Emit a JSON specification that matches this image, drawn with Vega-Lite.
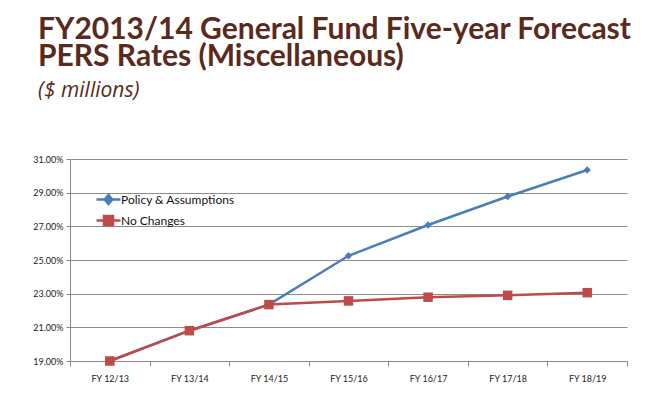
{
  "$schema": "https://vega.github.io/schema/vega-lite/v6.json",
  "width": 557,
  "height": 202,
  "autosize": {"type": "none"},
  "padding": {"left": 70, "top": 159, "right": 25, "bottom": 51},
  "background": "white",
  "title": {
    "text": ["FY2013/14 General Fund Five-year Forecast", "PERS Rates (Miscellaneous)"],
    "subtitle": " ($ millions)",
    "anchor": "start",
    "frame": "group",
    "dx": -32,
    "offset": 54,
    "font": "Lato",
    "fontSize": 30,
    "fontWeight": "bold",
    "lineHeight": 27,
    "color": "#5a2a1c",
    "subtitleFont": "Open Sans",
    "subtitleFontSize": 21,
    "subtitleFontStyle": "italic",
    "subtitleFontWeight": "normal",
    "subtitleColor": "#5a2a1c",
    "subtitlePadding": 8
  },
  "data": {
    "values": [
      {"fy": "FY 12/13", "series": "Policy & Assumptions", "rate": 0.1900},
      {"fy": "FY 13/14", "series": "Policy & Assumptions", "rate": 0.2080},
      {"fy": "FY 14/15", "series": "Policy & Assumptions", "rate": 0.2235},
      {"fy": "FY 15/16", "series": "Policy & Assumptions", "rate": 0.2525},
      {"fy": "FY 16/17", "series": "Policy & Assumptions", "rate": 0.2708},
      {"fy": "FY 17/18", "series": "Policy & Assumptions", "rate": 0.2877},
      {"fy": "FY 18/19", "series": "Policy & Assumptions", "rate": 0.3035},
      {"fy": "FY 12/13", "series": "No Changes", "rate": 0.1900},
      {"fy": "FY 13/14", "series": "No Changes", "rate": 0.2080},
      {"fy": "FY 14/15", "series": "No Changes", "rate": 0.2235},
      {"fy": "FY 15/16", "series": "No Changes", "rate": 0.2257},
      {"fy": "FY 16/17", "series": "No Changes", "rate": 0.2279},
      {"fy": "FY 17/18", "series": "No Changes", "rate": 0.2290},
      {"fy": "FY 18/19", "series": "No Changes", "rate": 0.2306}
    ]
  },
  "encoding": {
    "x": {
      "field": "fy", "type": "nominal", "sort": null,
      "scale": {"paddingInner": 0, "paddingOuter": 0},
      "axis": {
        "title": null, "labelAngle": 0, "tickBand": "extent", "grid": false,
        "labelFont": "Lato", "labelFontSize": 9, "labelColor": "#222",
        "domainColor": "#888", "tickColor": "#888", "tickSize": 5, "labelPadding": 8
      }
    },
    "y": {
      "field": "rate", "type": "quantitative",
      "scale": {"domain": [0.19, 0.31], "nice": false, "zero": false},
      "axis": {
        "title": null, "format": ".2%", "values": [0.19, 0.21, 0.23, 0.25, 0.27, 0.29, 0.31],
        "labelFont": "Lato", "labelFontSize": 9, "labelColor": "#222",
        "gridColor": "#8c8c8c", "gridWidth": 1, "domainColor": "#888",
        "tickColor": "#888", "tickSize": 4, "labelPadding": 3
      }
    },
    "color": {
      "field": "series", "type": "nominal",
      "scale": {"domain": ["Policy & Assumptions", "No Changes"], "range": ["#4a7ebb", "#be4b48"]},
      "legend": {
        "title": null, "orient": "none", "legendX": 27, "legendY": 29,
        "labelFont": "Lato", "labelFontSize": 12, "labelColor": "#111",
        "rowPadding": 0, "symbolSize": 400, "labelOffset": 1,
        "symbolStrokeWidth": 2.5,
        "encode": {
          "symbols": {
            "update": {
              "shape": {"signal": "datum.value === 'No Changes' ? 'M-1.2,0H1.2M-0.45,-0.45H0.45V0.45H-0.45Z' : 'M-1.2,0H1.2M0,-0.45L0.38,0L0,0.45L-0.38,0Z'"},
              "stroke": {"signal": "datum.value === 'No Changes' ? '#be4b48' : '#4a7ebb'"},
              "fill": {"signal": "datum.value === 'No Changes' ? '#be4b48' : '#4a7ebb'"},
              "strokeWidth": {"value": 2.5},
              "opacity": {"value": 1}
            }
          }
        }
      }
    }
  },
  "layer": [
    {"mark": {"type": "line", "strokeWidth": 2.5}},
    {
      "transform": [{"filter": "datum.series === 'Policy & Assumptions'"}],
      "mark": {"type": "point", "filled": true, "opacity": 1, "shape": "diamond", "size": 55}
    },
    {
      "transform": [{"filter": "datum.series === 'No Changes'"}],
      "mark": {"type": "point", "filled": true, "opacity": 1, "shape": "square", "size": 90}
    }
  ],
  "config": {"view": {"stroke": null}}
}
